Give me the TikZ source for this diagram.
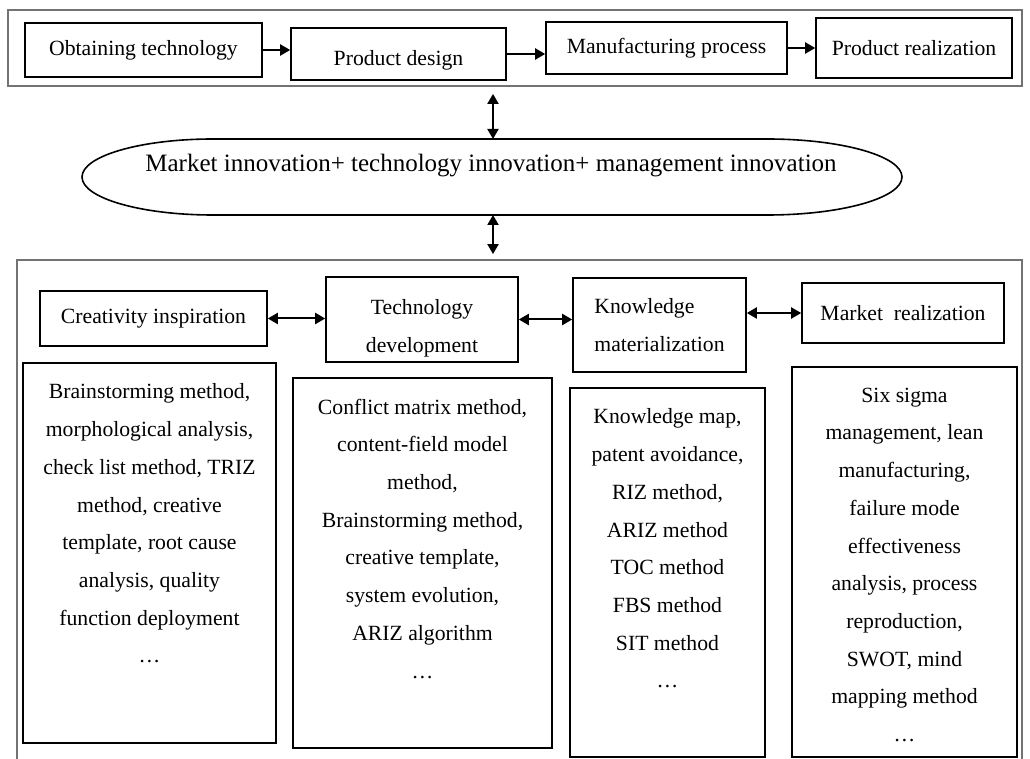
\documentclass[tikz,border=0pt]{standalone}
\usepackage{fontspec}
\setmainfont{Liberation Serif}
\usetikzlibrary{arrows.meta,positioning}

\begin{document}
\begin{tikzpicture}[x=1pt, y=1pt,
    headbox/.style={draw, line width=1.6pt, inner sep=0pt, align=center, font=\fontsize{21.7}{37.7}\selectfont},
    listbox/.style={draw, line width=1.6pt, inner sep=0pt},
    listtext/.style={inner sep=0pt, align=center, font=\fontsize{21.7}{37.7}\selectfont},
    frame/.style={draw=black!55, line width=1.8pt, inner sep=0pt},
    flow/.style={-{Triangle[length=10pt,width=11pt]}, line width=2pt},
    link/.style={{Triangle[length=10pt,width=11pt]}-{Triangle[length=10pt,width=11pt]}, line width=2pt}]

    \useasboundingbox (0,0) rectangle (1030,758);

    % Frames
    \node[frame, minimum width=1014pt, minimum height=76pt] (chain) at (515,710) {};
    \node[frame, minimum width=1005pt, minimum height=504pt] (methods) at (519.5,246) {};

    % Process chain
    \node[headbox, minimum width=237pt, minimum height=54pt] (obtain) at (143.5,708) {Obtaining technology};
    \node[headbox, minimum width=215pt, minimum height=52pt, text height=27pt] (design) at (398.5,704) {Product design};
    \node[headbox, minimum width=241pt, minimum height=52pt] (manuf) at (666.5,710) {Manufacturing process};
    \node[headbox, minimum width=196pt, minimum height=60pt] (realize) at (914,710) {Product realization};

    \draw[flow] (obtain.east) -- (obtain.east -| design.west);
    \draw[flow] (design.east) -- (design.east -| manuf.west);
    \draw[flow] (manuf.east) -- (manuf.east -| realize.west);

    % Innovation ellipse
    \draw[line width=1.6pt] (213,619) -- (767,619)
        arc[start angle=90, end angle=-90, x radius=135, y radius=38] -- (213,543)
        arc[start angle=270, end angle=90, x radius=131, y radius=38] -- cycle;
    \node[inner sep=0pt, font=\fontsize{25}{30}\selectfont] (mkt) at (491,592) {Market innovation+ technology innovation+ management innovation};
    \coordinate (mktTop) at (493,619);
    \coordinate (mktBot) at (493,543);

    \draw[link] ([yshift=-7pt]chain.south -| mktTop) -- (mktTop);
    \draw[link] (mktBot) -- ([yshift=5pt]methods.north -| mktBot);

    % Stages
    \node[headbox, minimum width=227pt, minimum height=55pt] (idea) at (153.5,439.5) {Creativity inspiration};
    \node[headbox, minimum width=192pt, minimum height=85pt, text height=71pt] (techDev) at (422,438.5) {Technology\\development};
    \node[headbox, align=left, minimum width=173pt, minimum height=94pt] (knowMat) at (659.5,433) {Knowledge\\materialization};
    \node[headbox, minimum width=202pt, minimum height=60pt] (mktReal) at (903,445) {Market\ \ realization};

    \draw[link] (idea.east) -- (idea.east -| techDev.west);
    \draw[link] (techDev.east) -- (techDev.east -| knowMat.west);
    \draw[link] (mktReal.west -| knowMat.east) -- (mktReal.west);

    % Method lists
    \node[listbox, minimum width=253pt, minimum height=380pt] (ideaList) at (149.5,205) {};
    \node[listbox, minimum width=259pt, minimum height=370pt] (techList) at (422.5,195) {};
    \node[listbox, minimum width=195pt, minimum height=369pt] (knowList) at (667.5,185.5) {};
    \node[listbox, minimum width=225pt, minimum height=390pt] (mktList) at (904.5,196) {};

    \node[listtext, below=21.5pt of ideaList.north] (ideaText) {Brainstorming method,\\morphological analysis,\\check list method, TRIZ\\method, creative\\template, root cause\\analysis, quality\\function deployment\\…};
    \node[listtext, below=21.5pt of techList.north] (techText) {Conflict matrix method,\\content-field model\\method,\\Brainstorming method,\\creative template,\\system evolution,\\ARIZ algorithm\\…};
    \node[listtext, below=21.5pt of knowList.north] (knowText) {Knowledge map,\\patent avoidance,\\RIZ method,\\ARIZ method\\TOC method\\FBS method\\SIT method\\…};
    \node[listtext, below=21.5pt of mktList.north] (mktText) {Six sigma\\management, lean\\manufacturing,\\failure mode\\effectiveness\\analysis, process\\reproduction,\\SWOT, mind\\mapping method\\…};
\end{tikzpicture}
\end{document}
